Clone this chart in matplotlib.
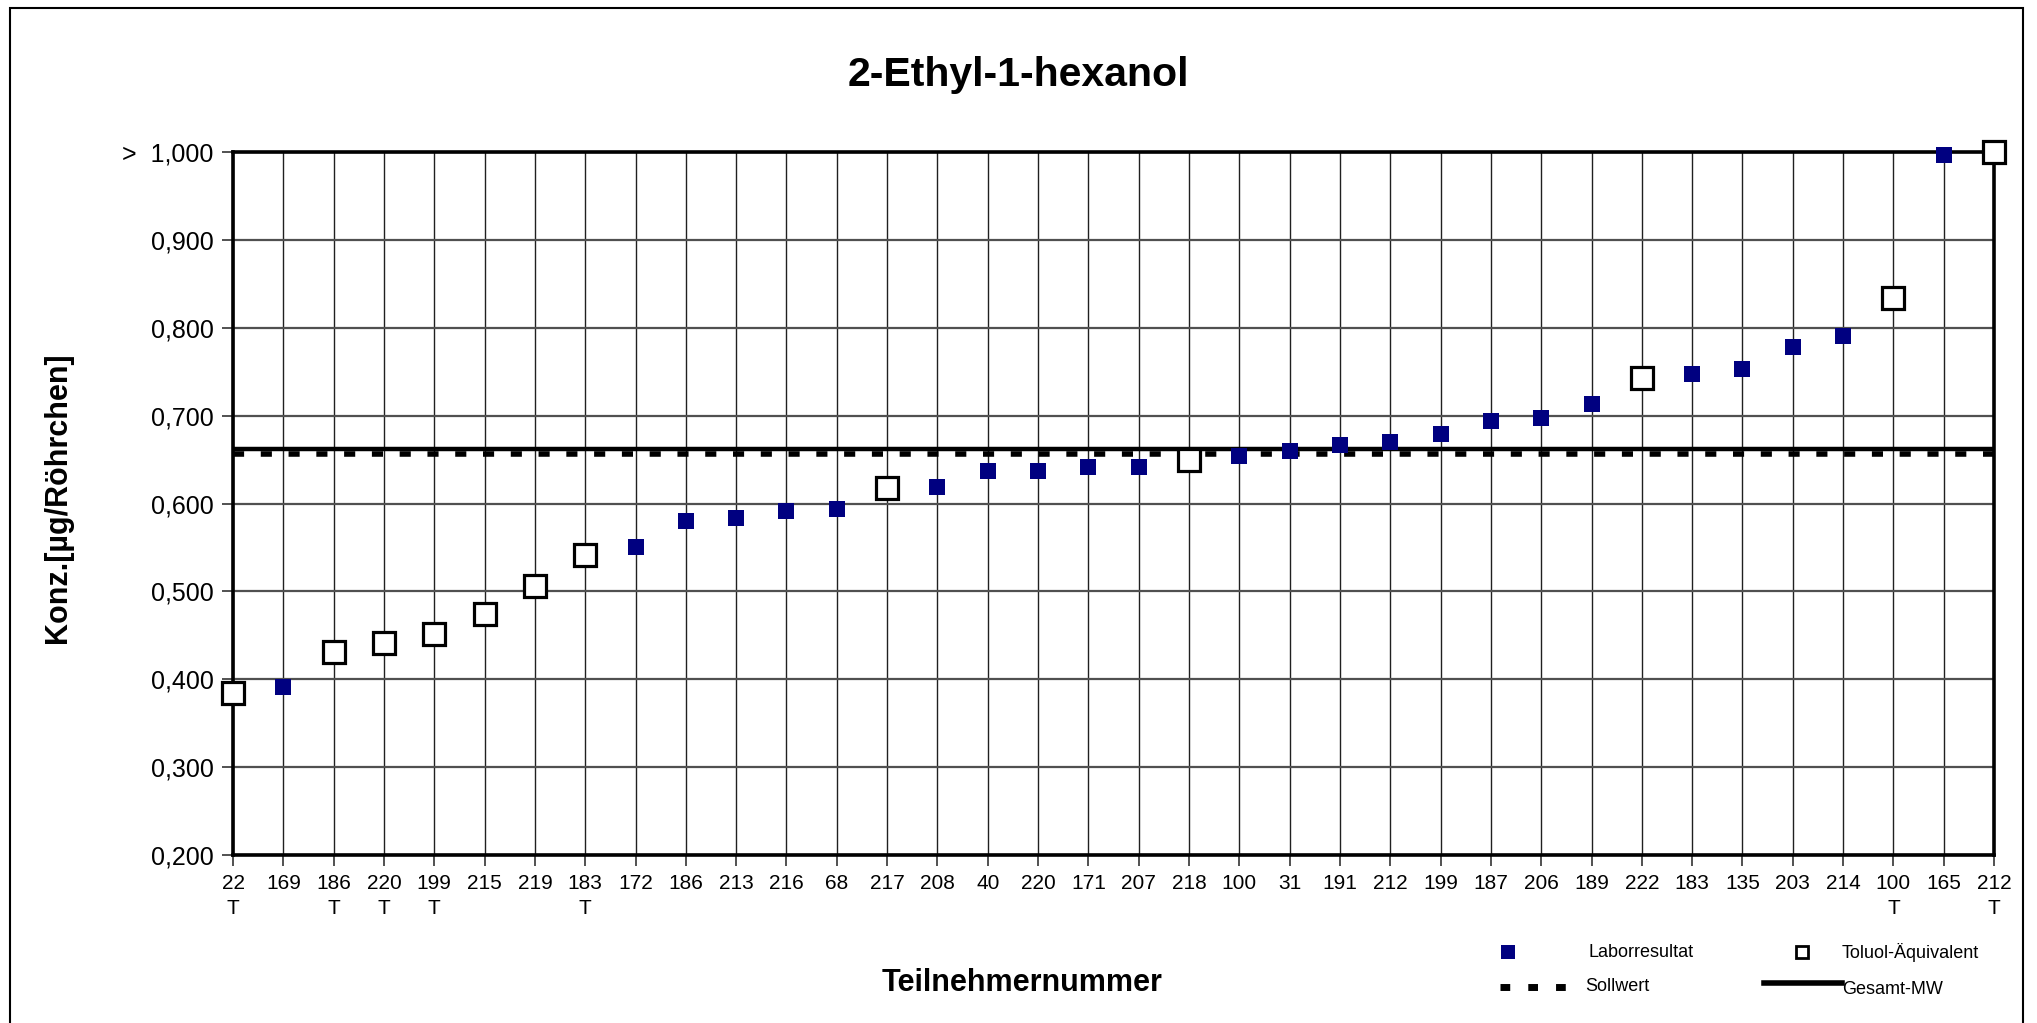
import numpy as np
import matplotlib.pyplot as plt
from matplotlib.lines import Line2D
from matplotlib.patches import Rectangle

plt.rcParams['font.family'] = ['Liberation Sans', 'DejaVu Sans']

# Teilnehmernummern (x-Achse), T = Toluol-Äquivalent
teilnehmer = ['22', '169', '186', '220', '199', '215', '219', '183', '172', '186',
              '213', '216', '68', '217', '208', '40', '220', '171', '207', '218',
              '100', '31', '191', '212', '199', '187', '206', '189', '222', '183',
              '135', '203', '214', '100', '165', '212']
t_flag = ['T', '', 'T', 'T', 'T', '', '', 'T', '', '',
          '', '', '', '', '', '', '', '', '', '',
          '', '', '', '', '', '', '', '', '', '',
          '', '', '', 'T', '', 'T']

nan = np.nan
laborresultat = [nan, 0.391, nan, nan, nan, nan, nan, nan, 0.551, 0.580,
                 0.584, 0.592, 0.594, nan, 0.619, 0.637, 0.637, 0.641, 0.642, nan,
                 0.654, 0.660, 0.667, 0.670, 0.679, 0.694, 0.697, 0.713, nan, 0.747,
                 0.753, 0.778, 0.791, nan, 0.997, nan]
toluol = [0.384, nan, 0.431, 0.441, 0.451, 0.474, 0.506, 0.541, nan, nan,
          nan, nan, nan, 0.618, nan, nan, nan, nan, nan, 0.650,
          nan, nan, nan, nan, nan, nan, nan, nan, 0.743, nan,
          nan, nan, nan, 0.834, nan, 1.000]
sollwert = 0.656
gesamt_mw = 0.662

y_ticks = [0.2, 0.3, 0.4, 0.5, 0.6, 0.7, 0.8, 0.9, 1.0]
y_labels = ['0,200', '0,300', '0,400', '0,500', '0,600', '0,700', '0,800', '0,900', '>  1,000']

navy = '#000080'
x = np.arange(len(teilnehmer))

fig = plt.figure(figsize=(20.37, 10.23), dpi=100)
ax = fig.add_axes([0.1144, 0.1642, 0.8645, 0.6872])

ax.axhline(sollwert, color='black', lw=4.0, linestyle=(0, (2.0, 3.0)), zorder=3)
ax.axhline(gesamt_mw, color='black', lw=3.2, zorder=3)

ax.plot(x, laborresultat, 's', color=navy, markersize=12, markeredgewidth=0,
        clip_on=False, zorder=5)
ax.plot(x, toluol, 's', markerfacecolor='white', markeredgecolor='black',
        markersize=16, markeredgewidth=2.3, clip_on=False, zorder=5)

ax.set_xlim(0, len(teilnehmer) - 1)
ax.set_ylim(0.2, 1.0)
ax.set_xticks(x)
ax.set_xticklabels([n + '\n' + t for n, t in zip(teilnehmer, t_flag)],
                   fontsize=15, linespacing=1.35)
ax.set_yticks(y_ticks)
ax.set_yticklabels(y_labels, fontsize=18)
ax.tick_params(axis='both', direction='out', length=8, width=1.2, pad=6, color='#333333')
ax.grid(True, axis='x', color='#202020', lw=1.0, zorder=1)
ax.grid(True, axis='y', color='#505050', lw=1.6, zorder=1)
ax.set_axisbelow(True)
for s in ax.spines.values():
    s.set_linewidth(2.6)
    s.set_color('black')

fig.text(0.4998, 0.9267, '2-Ethyl-1-hexanol', ha='center', va='center',
         fontsize=29.5, fontweight='bold')
fig.text(0.0285, 0.5132, 'Konz.[µg/Röhrchen]', ha='center', va='center',
         rotation=90, fontsize=22, fontweight='bold')
fig.text(0.5017, 0.0391, 'Teilnehmernummer', ha='center', va='center',
         fontsize=22, fontweight='bold')

# Legende
fig.add_artist(Line2D([0.7403], [0.0694], marker='s', color=navy, markersize=10,
                      markeredgewidth=0, linestyle='none'))
fig.text(0.7796, 0.0694, 'Laborresultat', ha='left', va='center', fontsize=13)
fig.add_artist(Line2D([0.8846], [0.0694], marker='s', markerfacecolor='white',
                      markeredgecolor='black', markersize=9, markeredgewidth=2,
                      linestyle='none'))
fig.text(0.9043, 0.0694, 'Toluol-Äquivalent', ha='left', va='center', fontsize=13)
fig.add_artist(Line2D([0.7364, 0.7703], [0.0352, 0.0352], color='black', lw=5,
                      linestyle=(0, (1.4, 2.6))))
fig.text(0.7781, 0.0352, 'Sollwert', ha='left', va='center', fontsize=13)
fig.add_artist(Line2D([0.8660, 0.9043], [0.0391, 0.0391], color='black', lw=4))
fig.text(0.9043, 0.0323, 'Gesamt-MW', ha='left', va='center', fontsize=13)

fig.add_artist(Rectangle((0.0049, -0.02), 0.9882, 1.0122, transform=fig.transFigure,
                         fill=False, edgecolor='black', lw=1.5))

fig.savefig('out.png', dpi=100)
